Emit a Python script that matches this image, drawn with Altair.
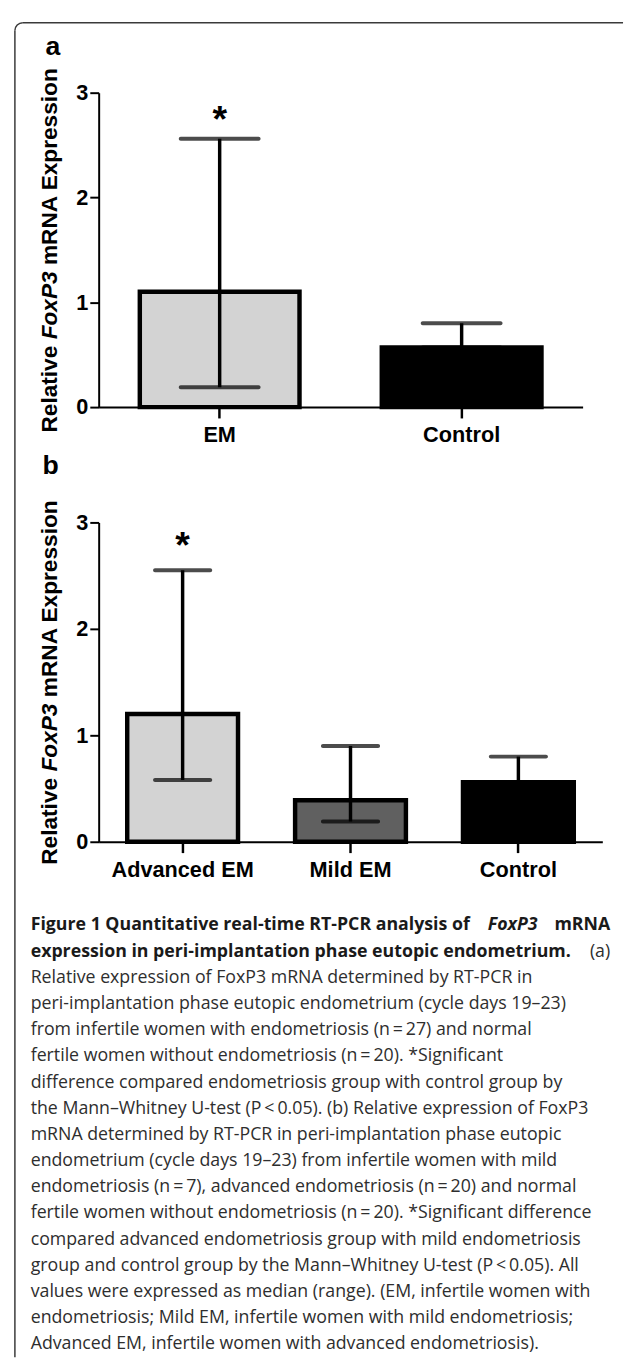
import altair as alt
import pandas as pd

FONT = "Liberation Sans"
CAP_FONT = "Open Sans"

# y-axis title pieces (FoxP3 in italics); lengths in px at 23px bold
title_parts = ["Relative ", "FoxP3", "mRNA Expression"]
title_styles = ["normal", "italic", "normal"]
title_starts = [0.0, 94.6, 170.0]   # offset from the bottom end of the title
TITLE_LEN = 370.7

# ---------------- panel a ----------------
cats_a = ["EM", "Control"]
median_a = [1.1, 0.57]
low_a = [0.19, 0.57]
high_a = [2.56, 0.80]
fill_a = ["#d3d3d3", "#000000"]
sig_a = ["*", ""]

# ---------------- panel b ----------------
cats_b = ["Advanced EM", "Mild EM", "Control"]
median_b = [1.2, 0.39, 0.56]
low_b = [0.58, 0.19, 0.56]
high_b = [2.55, 0.90, 0.80]
fill_b = ["#d3d3d3", "#606060", "#000000"]
sig_b = ["*", "", ""]

y_ticks = [0, 1, 2, 3]

# ---------------- caption ----------------
caption_lines = [
    "Figure 1 Quantitative real-time RT-PCR analysis of",
    "expression in peri-implantation phase eutopic endometrium.",
    "Relative expression of FoxP3 mRNA determined by RT-PCR in",
    "peri-implantation phase eutopic endometrium (cycle days 19\u201323)",
    "from infertile women with endometriosis (n\u2009=\u200927) and normal",
    "fertile women without endometriosis (n\u2009=\u200920). *Significant",
    "difference compared endometriosis group with control group by",
    "the Mann\u2013Whitney U-test (P\u2009<\u20090.05). (b) Relative expression of FoxP3",
    "mRNA determined by RT-PCR in peri-implantation phase eutopic",
    "endometrium (cycle days 19\u201323) from infertile women with mild",
    "endometriosis (n\u2009=\u20097), advanced endometriosis (n\u2009=\u200920) and normal",
    "fertile women without endometriosis (n\u2009=\u200920). *Significant difference",
    "compared advanced endometriosis group with mild endometriosis",
    "group and control group by the Mann\u2013Whitney U-test (P\u2009<\u20090.05). All",
    "values were expressed as median (range). (EM, infertile women with",
    "endometriosis; Mild EM, infertile women with mild endometriosis;",
    "Advanced EM, infertile women with advanced endometriosis).",
]
caption_bold = [True, True] + [False] * 15
# right-hand pieces of justified lines
tail_text = ["mRNA", "(a)"]
tail_line = [0, 1]
tail_bold = [True, False]
# italic word in the first line
ital_text = ["FoxP3"]
ital_line = [0]


def panel(cats, med, lo, hi, fills, sig, width, height, cap_size, letter,
          letter_x, letter_y, star_dy):
    df = pd.DataFrame({"cat": cats, "med": med, "lo": lo, "hi": hi,
                       "fill": fills, "sig": sig})
    x_enc = alt.X(
        "cat:N", sort=cats, title=None,
        scale=alt.Scale(paddingInner=0.34, paddingOuter=0.17),
        axis=alt.Axis(labelAngle=0, labelFont=FONT, labelFontSize=22,
                      labelFontWeight="bold", labelColor="black",
                      domainColor="black", domainWidth=2,
                      tickColor="black", tickWidth=2.5, tickSize=11,
                      labelPadding=7),
    )
    y_axis = alt.Axis(values=y_ticks, format="d", grid=False,
                      labelFont=FONT, labelFontSize=22, labelFontWeight="bold",
                      labelColor="black", labelPadding=2,
                      domainColor="black", domainWidth=2,
                      tickColor="black", tickWidth=2, tickSize=9,
                      title=None)
    y_scale = alt.Scale(domain=[0, 3], nice=False)
    base = alt.Chart(df)
    bars = base.mark_bar(stroke="black", strokeWidth=4.5).encode(
        x=x_enc,
        y=alt.Y("med:Q", scale=y_scale, axis=y_axis, title=None),
        fill=alt.Fill("fill:N", scale=None),
    )
    whisk = base.mark_rule(color="black", strokeWidth=3.5).encode(
        x=x_enc,
        y=alt.Y("lo:Q", scale=y_scale, title=None),
        y2="hi:Q",
    )
    cap_hi = base.mark_tick(color="black", thickness=4, size=cap_size,
                            cornerRadius=2).encode(
        x=x_enc, y=alt.Y("hi:Q", scale=y_scale, title=None))
    cap_lo = base.mark_tick(color="black", thickness=4, size=cap_size,
                            cornerRadius=2).encode(
        x=x_enc, y=alt.Y("lo:Q", scale=y_scale, title=None))
    star = base.mark_text(font=FONT, fontSize=38, fontWeight="bold",
                          baseline="alphabetic", dy=star_dy,
                          color="black").encode(
        x=x_enc, y=alt.Y("hi:Q", scale=y_scale, title=None),
        text="sig:N")
    lab = alt.Chart(pd.DataFrame({"t": [letter]})).mark_text(
        font=FONT, fontSize=27, fontWeight="bold", align="left",
        baseline="alphabetic", color="black").encode(
        x=alt.value(letter_x), y=alt.value(letter_y), text="t:N")
    # y-axis title built from pieces so FoxP3 can be italic
    bottom = height / 2 + TITLE_LEN / 2
    tlayers = []
    for txt, sty, st in zip(title_parts, title_styles, title_starts):
        tlayers.append(
            alt.Chart(pd.DataFrame({"t": [txt]})).mark_text(
                font=FONT, fontSize=23, fontWeight="bold", fontStyle=sty,
                align="left", baseline="middle", angle=270,
                color="black").encode(
                x=alt.value(-49), y=alt.value(bottom - st), text="t:N"))
    return alt.layer(bars, whisk, cap_hi, cap_lo, star, lab,
                     *tlayers).properties(width=width, height=height)


pa = panel(cats_a, median_a, low_a, high_a, fill_a, sig_a, 491, 319, 83,
           "a", -54, -38, -7)
pb = panel(cats_b, median_b, low_b, high_b, fill_b, sig_b, 511, 324, 60,
           "b", -57, -49, -13)

# ---------------- caption panel ----------------
cap_df = pd.DataFrame({"i": list(range(len(caption_lines))),
                       "line": caption_lines,
                       "bold": caption_bold})
tail_df = pd.DataFrame({"i": tail_line, "line": tail_text, "bold": tail_bold})
ital_df = pd.DataFrame({"i": ital_line, "line": ital_text})
cap_y = alt.Y("i:Q", scale=alt.Scale(domain=[0, 16], range=[-32, 393]),
              axis=None)
CS = 18

cap_bold = alt.Chart(cap_df).transform_filter("datum.bold").mark_text(
    align="left", baseline="middle", font=CAP_FONT, fontSize=CS,
    fontWeight="bold", color="#1a1a1a").encode(
    x=alt.value(-69), y=cap_y, text="line:N")
cap_reg = alt.Chart(cap_df).transform_filter("!datum.bold").mark_text(
    align="left", baseline="middle", font=CAP_FONT, fontSize=CS,
    color="#2e2e2e").encode(
    x=alt.value(-69), y=cap_y, text="line:N")
tail_b = alt.Chart(tail_df).transform_filter("datum.bold").mark_text(
    align="right", baseline="middle", font=CAP_FONT, fontSize=CS,
    fontWeight="bold", color="#1a1a1a").encode(
    x=alt.value(519), y=cap_y, text="line:N")
tail_r = alt.Chart(tail_df).transform_filter("!datum.bold").mark_text(
    align="right", baseline="middle", font=CAP_FONT, fontSize=CS,
    color="#2e2e2e").encode(
    x=alt.value(519), y=cap_y, text="line:N")
ital = alt.Chart(ital_df).mark_text(
    align="center", baseline="middle", font=CAP_FONT, fontSize=CS,
    fontWeight="bold", fontStyle="italic", color="#1a1a1a").encode(
    x=alt.value(420), y=cap_y, text="line:N")

bd = pd.DataFrame({"k": [0]})
BC = "#3a3a3a"
top_line = alt.Chart(bd).mark_rule(color=BC, strokeWidth=1.5).encode(
    x=alt.value(-77), x2=alt.value(532), y=alt.value(-948))
left_line = alt.Chart(bd).mark_rule(color=BC, strokeWidth=1.5).encode(
    x=alt.value(-85), y=alt.value(-940), y2=alt.value(406))
corner = alt.Chart(bd).mark_arc(color=BC, radius=8.75, radius2=7.25,
                                theta=4.712389, theta2=6.283185).encode(
    x=alt.value(-77), y=alt.value(-940))

cap = alt.layer(cap_bold, cap_reg, tail_b, tail_r, ital, top_line, left_line,
                corner).properties(width=520, height=393)

chart = alt.vconcat(pa, pb, cap, spacing=117, bounds="flush").properties(
    padding={"left": 5, "top": 3, "right": 0, "bottom": 0},
    background="white",
).configure_view(stroke="transparent")

chart.save("out.html", embed_options={"renderer": "svg", "actions": False})
